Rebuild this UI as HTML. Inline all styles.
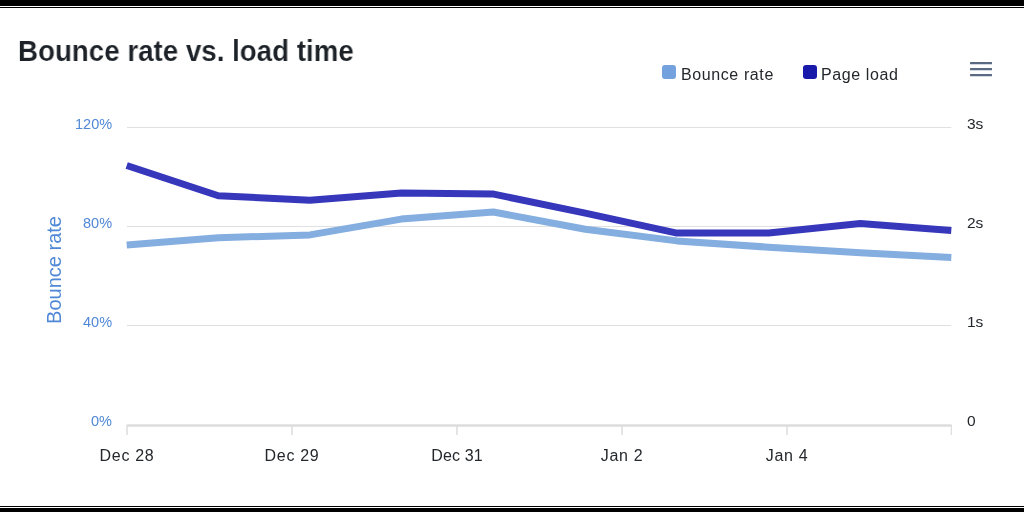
<!DOCTYPE html>
<html><head><meta charset="utf-8">
<style>
html,body{margin:0;padding:0;background:#fff;}
body{width:1024px;height:512px;position:relative;overflow:hidden;font-family:"Liberation Sans",sans-serif;}
.bar{position:absolute;left:0;width:1024px;background:#000;}
.t{position:absolute;white-space:nowrap;line-height:1;will-change:transform;}
#title{left:18.2px;top:36.8px;font-size:29px;font-weight:bold;color:#1c2228;-webkit-text-stroke:0.12px #fff;transform:scaleX(0.9555);transform-origin:0 0;}
.leg{font-size:16px;color:#24282c;letter-spacing:0.6px;}
.sq{position:absolute;width:14px;height:14px;border-radius:3px;}
.yl{font-size:14.5px;color:#5088d6;text-align:right;}
.yr{font-size:15.5px;color:#24282c;}
.xl{font-size:16px;color:#24282c;letter-spacing:0.7px;transform:translateX(-50%);margin-top:0.7px;}
</style></head><body>
<div class="bar" style="top:0;height:6px"></div>
<div class="bar" style="top:7px;height:1px"></div>
<div class="bar" style="top:506px;height:1px"></div>
<div class="bar" style="top:508px;height:4px"></div>

<div id="title" class="t">Bounce rate vs. load time</div>

<div class="sq" style="left:662px;top:65px;background:#74a2de"></div>
<div class="t leg" style="left:681px;top:66.5px">Bounce rate</div>
<div class="sq" style="left:803px;top:65px;background:#1a1aaa"></div>
<div class="t leg" style="left:821px;top:66.5px">Page load</div>

<svg style="position:absolute;left:0;top:0" width="1024" height="512">
  <g fill="#5a6a82">
    <rect x="970" y="62" width="22" height="2.3" rx="0.5"/>
    <rect x="970" y="68" width="22" height="2.3" rx="0.5"/>
    <rect x="970" y="74" width="22" height="2.3" rx="0.5"/>
  </g>
  <g stroke="#e0e0e0" stroke-width="1">
    <line x1="127" y1="127.5" x2="951.3" y2="127.5"/>
    <line x1="127" y1="226.5" x2="951.3" y2="226.5"/>
    <line x1="127" y1="325.5" x2="951.3" y2="325.5"/>
  </g>
  <line x1="127" y1="425.6" x2="951.5" y2="425.6" stroke="#dcdcdc" stroke-width="2.5"/>
  <g stroke="#dcdcdc" stroke-width="1.5">
    <line x1="127" y1="425" x2="127" y2="435"/>
    <line x1="292" y1="425" x2="292" y2="435"/>
    <line x1="457" y1="425" x2="457" y2="435"/>
    <line x1="622" y1="425" x2="622" y2="435"/>
    <line x1="787" y1="425" x2="787" y2="435"/>
    <line x1="951.3" y1="425" x2="951.3" y2="435" stroke-width="1.2"/>
  </g>
  <polyline fill="none" stroke="#84ade0" stroke-width="7" stroke-linejoin="round"
    points="126.7,245.0 218.3,237.8 309.9,234.9 401.2,219.1 493.3,212.0 585.3,229.3 677,240.9 768.7,247.2 860.3,252.7 951.3,257.6"/>
  <polyline fill="none" stroke="#3737bc" stroke-width="7" stroke-linejoin="round"
    points="126.7,165.5 218.3,195.7 309.9,200.3 401.5,192.9 493.7,194.1 585.3,213.1 675.8,232.9 768.7,232.9 860.3,223.6 951.3,230.5"/>
  <text x="0" y="0" transform="translate(61 270) rotate(-90)" text-anchor="middle" font-family="Liberation Sans" font-size="20" fill="#5088d6">Bounce rate</text>
</svg>

<div class="t yl" style="right:912px;top:117px">120%</div>
<div class="t yl" style="right:912px;top:216px">80%</div>
<div class="t yl" style="right:912px;top:315px">40%</div>
<div class="t yl" style="right:912px;top:414px">0%</div>

<div class="t yr" style="left:967.3px;top:115.5px">3s</div>
<div class="t yr" style="left:967.3px;top:214.5px">2s</div>
<div class="t yr" style="left:967.3px;top:313.5px">1s</div>
<div class="t yr" style="left:967.3px;top:412.5px">0</div>

<div class="t xl" style="left:127px;top:447px">Dec 28</div>
<div class="t xl" style="left:292px;top:447px">Dec 29</div>
<div class="t xl" style="left:457px;top:447px;letter-spacing:0.1px">Dec 31</div>
<div class="t xl" style="left:621.5px;top:447px">Jan 2</div>
<div class="t xl" style="left:786.5px;top:447px">Jan 4</div>
</body></html>
